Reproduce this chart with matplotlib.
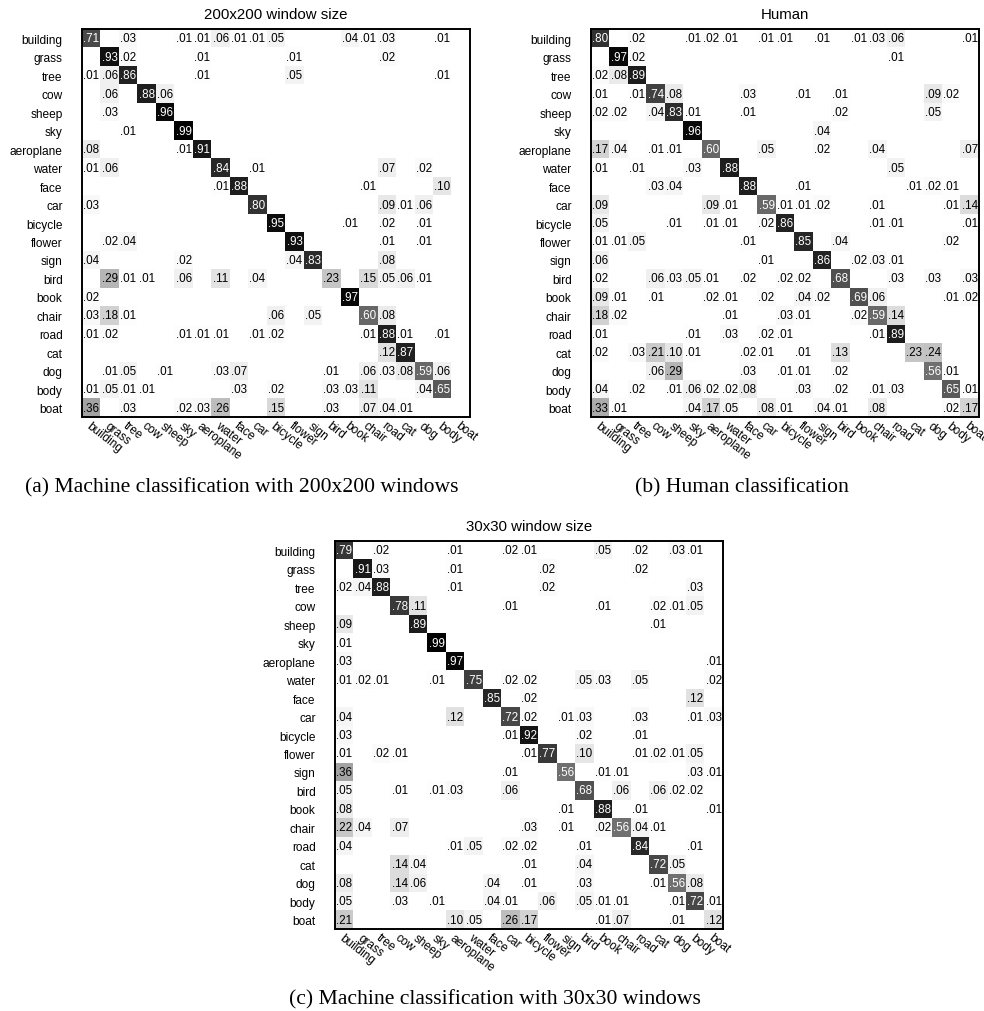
import numpy as np
import matplotlib
matplotlib.use('Agg')
import matplotlib.pyplot as plt

classes = ["building", "grass", "tree", "cow", "sheep", "sky", "aeroplane",
           "water", "face", "car", "bicycle", "flower", "sign", "bird", "book",
           "chair", "road", "cat", "dog", "body", "boat"]

titles = ["200x200 window size", "Human", "30x30 window size"]
captions = ["(a) Machine classification with 200x200 windows",
            "(b) Human classification",
            "(c) Machine classification with 30x30 windows"]

# confusion matrices in percent (rows: true class, cols: predicted class)
conf_200 = [
    [71, 0, 3, 0, 0, 1, 1, 6, 1, 1, 5, 0, 0, 0, 4, 1, 3, 0, 0, 1, 0],
    [0, 93, 2, 0, 0, 0, 1, 0, 0, 0, 0, 1, 0, 0, 0, 0, 2, 0, 0, 0, 0],
    [1, 6, 86, 0, 0, 0, 1, 0, 0, 0, 0, 5, 0, 0, 0, 0, 0, 0, 0, 1, 0],
    [0, 6, 0, 88, 6, 0, 0, 0, 0, 0, 0, 0, 0, 0, 0, 0, 0, 0, 0, 0, 0],
    [0, 3, 0, 0, 96, 0, 0, 0, 0, 0, 0, 0, 0, 0, 0, 0, 0, 0, 0, 0, 0],
    [0, 0, 1, 0, 0, 99, 0, 0, 0, 0, 0, 0, 0, 0, 0, 0, 0, 0, 0, 0, 0],
    [8, 0, 0, 0, 0, 1, 91, 0, 0, 0, 0, 0, 0, 0, 0, 0, 0, 0, 0, 0, 0],
    [1, 6, 0, 0, 0, 0, 0, 84, 0, 1, 0, 0, 0, 0, 0, 0, 7, 0, 2, 0, 0],
    [0, 0, 0, 0, 0, 0, 0, 1, 88, 0, 0, 0, 0, 0, 0, 1, 0, 0, 0, 10, 0],
    [3, 0, 0, 0, 0, 0, 0, 0, 0, 80, 0, 0, 0, 0, 0, 0, 9, 1, 6, 0, 0],
    [0, 0, 0, 0, 0, 0, 0, 0, 0, 0, 95, 0, 0, 0, 1, 0, 2, 0, 1, 0, 0],
    [0, 2, 4, 0, 0, 0, 0, 0, 0, 0, 0, 93, 0, 0, 0, 0, 1, 0, 1, 0, 0],
    [4, 0, 0, 0, 0, 2, 0, 0, 0, 0, 0, 4, 83, 0, 0, 0, 8, 0, 0, 0, 0],
    [0, 29, 1, 1, 0, 6, 0, 11, 0, 4, 0, 0, 0, 23, 0, 15, 5, 6, 1, 0, 0],
    [2, 0, 0, 0, 0, 0, 0, 0, 0, 0, 0, 0, 0, 0, 97, 0, 0, 0, 0, 0, 0],
    [3, 18, 1, 0, 0, 0, 0, 0, 0, 0, 6, 0, 5, 0, 0, 60, 8, 0, 0, 0, 0],
    [1, 2, 0, 0, 0, 1, 1, 1, 0, 1, 2, 0, 0, 0, 0, 1, 88, 1, 0, 1, 0],
    [0, 0, 0, 0, 0, 0, 0, 0, 0, 0, 0, 0, 0, 0, 0, 0, 12, 87, 0, 0, 0],
    [0, 1, 5, 0, 1, 0, 0, 3, 7, 0, 0, 0, 0, 1, 0, 6, 3, 8, 59, 6, 0],
    [1, 5, 1, 1, 0, 0, 0, 0, 3, 0, 2, 0, 0, 3, 3, 11, 0, 0, 4, 65, 0],
    [36, 0, 3, 0, 0, 2, 3, 26, 0, 0, 15, 0, 0, 3, 0, 7, 4, 1, 0, 0, 0],
]

conf_human = [
    [80, 0, 2, 0, 0, 1, 2, 1, 0, 1, 1, 0, 1, 0, 1, 3, 6, 0, 0, 0, 1],
    [0, 97, 2, 0, 0, 0, 0, 0, 0, 0, 0, 0, 0, 0, 0, 0, 1, 0, 0, 0, 0],
    [2, 8, 89, 0, 0, 0, 0, 0, 0, 0, 0, 0, 0, 0, 0, 0, 0, 0, 0, 0, 0],
    [1, 0, 1, 74, 8, 0, 0, 0, 3, 0, 0, 1, 0, 1, 0, 0, 0, 0, 9, 2, 0],
    [2, 2, 0, 4, 83, 1, 0, 0, 1, 0, 0, 0, 0, 2, 0, 0, 0, 0, 5, 0, 0],
    [0, 0, 0, 0, 0, 96, 0, 0, 0, 0, 0, 0, 4, 0, 0, 0, 0, 0, 0, 0, 0],
    [17, 4, 0, 1, 1, 0, 60, 0, 0, 5, 0, 0, 2, 0, 0, 4, 0, 0, 0, 0, 7],
    [1, 0, 1, 0, 0, 3, 0, 88, 0, 0, 0, 0, 0, 0, 0, 0, 5, 0, 0, 0, 0],
    [0, 0, 0, 3, 4, 0, 0, 0, 88, 0, 0, 1, 0, 0, 0, 0, 0, 1, 2, 1, 0],
    [9, 0, 0, 0, 0, 0, 9, 1, 0, 59, 1, 1, 2, 0, 0, 1, 0, 0, 0, 1, 14],
    [5, 0, 0, 0, 1, 0, 1, 1, 0, 2, 86, 0, 0, 0, 0, 1, 1, 0, 0, 0, 1],
    [1, 1, 5, 0, 0, 0, 0, 0, 1, 0, 0, 85, 0, 4, 0, 0, 0, 0, 0, 2, 0],
    [6, 0, 0, 0, 0, 0, 0, 0, 0, 1, 0, 0, 86, 0, 2, 3, 1, 0, 0, 0, 0],
    [2, 0, 0, 6, 3, 5, 1, 0, 2, 0, 2, 2, 0, 68, 0, 0, 3, 0, 3, 0, 3],
    [9, 1, 0, 1, 0, 0, 2, 1, 0, 2, 0, 4, 2, 0, 69, 6, 0, 0, 0, 1, 2],
    [18, 2, 0, 0, 0, 0, 0, 1, 0, 0, 3, 1, 0, 0, 2, 59, 14, 0, 0, 0, 0],
    [1, 0, 0, 0, 0, 1, 0, 3, 0, 2, 1, 0, 0, 0, 0, 1, 89, 0, 0, 0, 0],
    [2, 0, 3, 21, 10, 1, 0, 0, 2, 1, 0, 1, 0, 13, 0, 0, 0, 23, 24, 0, 0],
    [0, 0, 0, 6, 29, 0, 0, 0, 3, 0, 1, 1, 0, 2, 0, 0, 0, 0, 56, 1, 0],
    [4, 0, 2, 0, 1, 6, 2, 2, 8, 0, 0, 3, 0, 2, 0, 1, 3, 0, 0, 65, 1],
    [33, 1, 0, 0, 0, 4, 17, 5, 0, 8, 1, 0, 4, 1, 0, 8, 0, 0, 0, 2, 17],
]

conf_30 = [
    [79, 0, 2, 0, 0, 0, 1, 0, 0, 2, 1, 0, 0, 0, 5, 0, 2, 0, 3, 1, 0],
    [0, 91, 3, 0, 0, 0, 1, 0, 0, 0, 0, 2, 0, 0, 0, 0, 2, 0, 0, 0, 0],
    [2, 4, 88, 0, 0, 0, 1, 0, 0, 0, 0, 2, 0, 0, 0, 0, 0, 0, 0, 3, 0],
    [0, 0, 0, 78, 11, 0, 0, 0, 0, 1, 0, 0, 0, 0, 1, 0, 0, 2, 1, 5, 0],
    [9, 0, 0, 0, 89, 0, 0, 0, 0, 0, 0, 0, 0, 0, 0, 0, 0, 1, 0, 0, 0],
    [1, 0, 0, 0, 0, 99, 0, 0, 0, 0, 0, 0, 0, 0, 0, 0, 0, 0, 0, 0, 0],
    [3, 0, 0, 0, 0, 0, 97, 0, 0, 0, 0, 0, 0, 0, 0, 0, 0, 0, 0, 0, 1],
    [1, 2, 1, 0, 0, 1, 0, 75, 0, 2, 2, 0, 0, 5, 3, 0, 5, 0, 0, 0, 2],
    [0, 0, 0, 0, 0, 0, 0, 0, 85, 0, 2, 0, 0, 0, 0, 0, 0, 0, 0, 12, 0],
    [4, 0, 0, 0, 0, 0, 12, 0, 0, 72, 2, 0, 1, 3, 0, 0, 3, 0, 0, 1, 3],
    [3, 0, 0, 0, 0, 0, 0, 0, 0, 1, 92, 0, 0, 2, 0, 0, 1, 0, 0, 0, 0],
    [1, 0, 2, 1, 0, 0, 0, 0, 0, 0, 1, 77, 0, 10, 0, 0, 1, 2, 1, 5, 0],
    [36, 0, 0, 0, 0, 0, 0, 0, 0, 1, 0, 0, 56, 0, 1, 1, 0, 0, 0, 3, 1],
    [5, 0, 0, 1, 0, 1, 3, 0, 0, 6, 0, 0, 0, 68, 0, 6, 0, 6, 2, 2, 0],
    [8, 0, 0, 0, 0, 0, 0, 0, 0, 0, 0, 0, 1, 0, 88, 0, 1, 0, 0, 0, 1],
    [22, 4, 0, 7, 0, 0, 0, 0, 0, 0, 3, 0, 1, 0, 2, 56, 4, 1, 0, 0, 0],
    [4, 0, 0, 0, 0, 0, 1, 5, 0, 2, 2, 0, 0, 1, 0, 0, 84, 0, 0, 1, 0],
    [0, 0, 0, 14, 4, 0, 0, 0, 0, 0, 1, 0, 0, 4, 0, 0, 0, 72, 5, 0, 0],
    [8, 0, 0, 14, 6, 0, 0, 0, 4, 0, 1, 0, 0, 3, 0, 0, 0, 1, 56, 8, 0],
    [5, 0, 0, 3, 0, 1, 0, 0, 4, 1, 0, 6, 0, 5, 1, 1, 0, 0, 1, 72, 1],
    [21, 0, 0, 0, 0, 0, 10, 5, 0, 26, 17, 0, 0, 0, 1, 7, 0, 0, 1, 0, 12],
]

W, H = 984, 1012
fig = plt.figure(figsize=(W / 100, H / 100), dpi=100)
SANS = ["Liberation Sans", "DejaVu Sans"]
SERIF = ["Liberation Serif", "DejaVu Serif"]


def add_axes_px(left, top, size):
    return fig.add_axes([left / W, 1 - (top + size) / H, size / W, size / H])


def draw(ax, mat, title):
    M = np.array(mat, dtype=float) / 100.0
    n = M.shape[0]
    ax.imshow(M, cmap="gray_r", vmin=0, vmax=1, aspect="auto",
              interpolation="nearest")
    for i in range(n):
        for j in range(n):
            v = M[i, j]
            if v > 0:
                s = f"{v:.2f}"[1:]
                ax.text(j, i, s, ha="center", va="center", fontsize=8.4,
                        family=SANS, color="white" if v >= 0.5 else "black")
    ax.set_xticks(range(n))
    ax.set_yticks(range(n))
    ax.set_xticklabels(classes, rotation=-38, ha="left", va="top",
                       rotation_mode="anchor", fontsize=8.6, family=SANS)
    ax.set_yticklabels(classes, fontsize=8.6, family=SANS)
    ax.tick_params(axis="both", length=0)
    ax.tick_params(axis="y", pad=14)
    ax.tick_params(axis="x", pad=1.5)
    for sp in ax.spines.values():
        sp.set_linewidth(1.4)
    ax.text(0.5, 1 + 15 / 388, title, transform=ax.transAxes, ha="center",
            va="center", fontsize=10.8, family=SANS)


SZ = 388
ax_a = add_axes_px(82, 30, SZ)
ax_b = add_axes_px(591, 30, SZ)
ax_c = add_axes_px(335, 542, SZ)
draw(ax_a, conf_200, titles[0])
draw(ax_b, conf_human, titles[1])
draw(ax_c, conf_30, titles[2])

fig.text(242 / W, 1 - 488 / H, captions[0], ha="center", va="center",
         fontsize=15.6, family=SERIF)
fig.text(742 / W, 1 - 488 / H, captions[1], ha="center", va="center",
         fontsize=15.6, family=SERIF)
fig.text(495 / W, 1 - 1000 / H, captions[2], ha="center", va="center",
         fontsize=15.6, family=SERIF)

fig.savefig("out.png", dpi=100)
